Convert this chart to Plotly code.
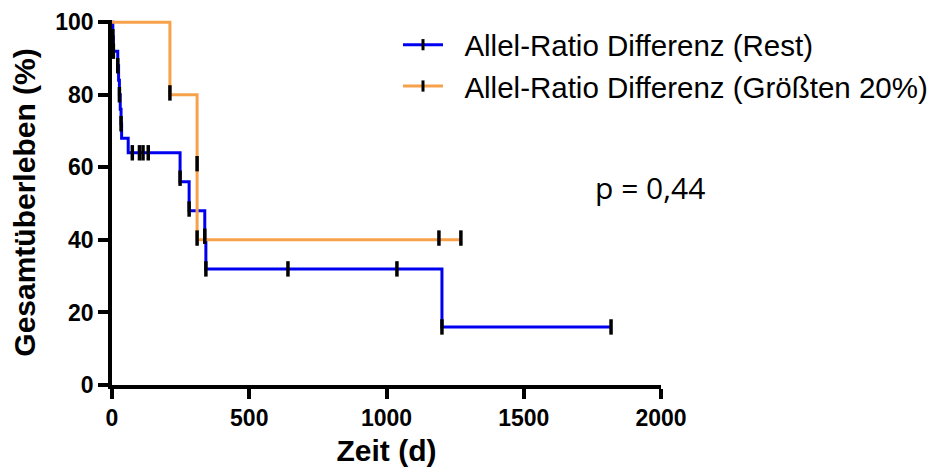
import plotly.graph_objects as go

# Kaplan-Meier step data (time in days, survival in %)
rest_time = [0, 3, 5, 21, 24, 27, 30, 33, 35, 59, 248, 281, 338, 342, 1202, 1818]
rest_surv = [100, 96, 92, 88, 84, 80, 76, 72, 68, 64, 56, 48, 40, 32, 16, 16]
rest_tick_time = [3, 5, 21, 27, 33, 74, 100, 113, 132, 248, 281, 338, 342, 641, 1038, 1202, 1818]
rest_tick_surv = [96, 92, 88, 80, 72, 64, 64, 64, 64, 57, 48.5, 41, 32, 32, 32, 16, 16]

top_time = [0, 211, 310, 1271]
top_surv = [100, 80, 40, 40]
top_tick_time = [211, 310, 310, 1191, 1271]
top_tick_surv = [80.5, 61, 40.5, 40.5, 40.5]

series_names = ["Allel-Ratio Differenz (Rest)", "Allel-Ratio Differenz (Größten 20%)"]
x_ticks = [0, 500, 1000, 1500, 2000]
y_ticks = [0, 20, 40, 60, 80, 100]
p_text = "p = 0,44"

BLUE = "#0000f0"
ORANGE = "#f7a24b"
tick_marker = dict(symbol="line-ns", size=11, line=dict(width=3.5, color="black"))

fig = go.Figure()
fig.add_trace(go.Scatter(x=rest_time, y=rest_surv, mode="lines", line=dict(color=BLUE, width=3, shape="hv"),
                         showlegend=False, hoverinfo="skip"))
fig.add_trace(go.Scatter(x=top_time, y=top_surv, mode="lines", line=dict(color=ORANGE, width=3, shape="hv"),
                         showlegend=False, hoverinfo="skip"))
fig.add_trace(go.Scatter(x=rest_tick_time, y=rest_tick_surv, mode="markers", marker=tick_marker,
                         showlegend=False, cliponaxis=False))
fig.add_trace(go.Scatter(x=top_tick_time, y=top_tick_surv, mode="markers", marker=tick_marker,
                         showlegend=False, cliponaxis=False))
# legend entries
pad = "\u00a0\u00a0"
for name, col in zip(series_names, [BLUE, ORANGE]):
    fig.add_trace(go.Scatter(x=[None], y=[None], mode="lines+markers", name=pad + name,
                             line=dict(color=col, width=3),
                             marker=dict(symbol="line-ns", size=8, line=dict(width=3, color="black"))))

axis_font = dict(family="Liberation Sans, Arial, sans-serif", size=23, color="black")
title_font = dict(family="Liberation Sans, Arial, sans-serif", size=30, color="black")

fig.update_layout(
    width=940, height=476,
    margin=dict(l=112, r=279, t=20, b=91, autoexpand=False),
    paper_bgcolor="white", plot_bgcolor="white",
    showlegend=True,
    legend=dict(x=(398 - 112) / 549, y=(385 - 19) / 365, xanchor="left", yanchor="top",
                font=dict(family="Liberation Sans, Arial, sans-serif", size=29.5, color="black"),
                bgcolor="rgba(0,0,0,0)", itemwidth=40, tracegroupgap=0),
    xaxis=dict(range=[0, 2000], tickvals=x_ticks, ticktext=[f"<b>{v}</b>" for v in x_ticks],
               showgrid=False, zeroline=False, showline=True, linecolor="black", linewidth=3.5,
               ticks="outside", ticklen=10, tickwidth=3.5, tickcolor="black", tickfont=axis_font,
               title=dict(text="<b>Zeit (d)</b>", font=title_font, standoff=11)),
    yaxis=dict(range=[0, 100.6], tickvals=y_ticks, ticktext=[f"<b>{v}</b>" for v in y_ticks],
               showgrid=False, zeroline=False, showline=True, linecolor="black", linewidth=3.5,
               ticks="outside", ticklen=10, tickwidth=3.5, tickcolor="black", tickfont=axis_font,
               title=dict(text="<b>Gesamtüberleben (%)</b>", font=title_font, standoff=12)),
    annotations=[dict(text=p_text, x=(650 - 112) / 549, y=(385 - 187) / 365, xref="paper", yref="paper",
                      showarrow=False, xanchor="center", yanchor="middle",
                      font=dict(family="Open Sans, Noto Sans, sans-serif", size=30, color="black"))],
)

fig.write_html("out.html")
